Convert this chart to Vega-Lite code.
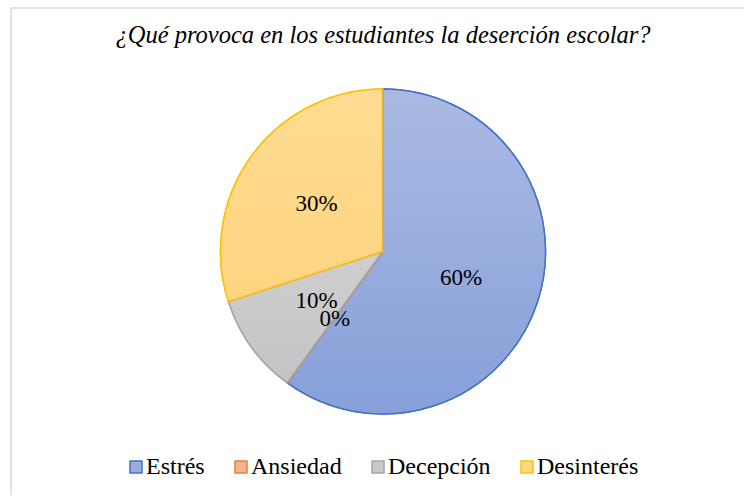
{
  "$schema": "https://vega.github.io/schema/vega-lite/v6.json",
  "width": 744,
  "height": 487,
  "padding": {"left": 11, "top": 8, "right": 0, "bottom": 0},
  "autosize": {"type": "none"},
  "background": "white",
  "view": {
    "stroke": "#D9D9D9",
    "strokeWidth": 1.5,
    "strokeDash": [1231, 744, 487, 0]
  },
  "title": {
    "text": "¿Qué provoca en los estudiantes la deserción escolar?",
    "font": "Liberation Serif",
    "fontStyle": "italic",
    "fontWeight": "normal",
    "fontSize": 24.5,
    "color": "#000000",
    "anchor": "middle",
    "baseline": "alphabetic",
    "offset": -59
  },
  "data": {
    "values": [
      {"cat": "Estrés", "value": 60, "label": "60%", "o": 1},
      {"cat": "Ansiedad", "value": 0, "label": "0%", "o": 2},
      {"cat": "Decepción", "value": 10, "label": "10%", "o": 3},
      {"cat": "Desinterés", "value": 30, "label": "30%", "o": 4}
    ]
  },
  "encoding": {
    "theta": {"field": "value", "type": "quantitative", "stack": true},
    "order": {"field": "o", "type": "quantitative"},
    "detail": {"field": "cat", "type": "nominal"}
  },
  "layer": [
    {
      "mark": {"type": "arc", "outerRadius": 162.5, "strokeWidth": 1.5},
      "encoding": {
        "fill": {
          "field": "cat", "type": "nominal",
          "scale": {"domain": ["Estrés", "Ansiedad", "Decepción", "Desinterés"], "range": ["#9BAEDD", "#F4B296", "#C9C9C9", "#FFD886"]},
          "legend": {"orient": "none", "legendX": 113, "legendY": 447, "direction": "horizontal", "title": null,
            "symbolType": "square", "symbolSize": 144, "symbolStrokeWidth": 1.5, "labelFont": "Liberation Serif",
            "labelFontSize": 24, "labelColor": "#000000", "labelOffset": -2, "columnPadding": 24, "labelLimit": 300}
        },
        "stroke": {
          "field": "cat", "type": "nominal",
          "scale": {"domain": ["Estrés", "Ansiedad", "Decepción", "Desinterés"], "range": ["#4472C4", "#ED7D31", "#A5A5A5", "#FFC000"]},
          "legend": {"orient": "none", "legendX": 113, "legendY": 447, "direction": "horizontal", "title": null,
            "symbolType": "square", "symbolSize": 144, "symbolStrokeWidth": 1.5, "labelFont": "Liberation Serif",
            "labelFontSize": 24, "labelColor": "#000000", "labelOffset": -2, "columnPadding": 24, "labelLimit": 300}
        }
      }
    },
    {
      "mark": {"type": "arc", "outerRadius": 162.5, "strokeWidth": 0},
      "encoding": {
        "fill": {
          "condition": [
            {"test": "datum.cat === 'Estrés'", "value": {"gradient": "linear", "x1": 0, "y1": 0, "x2": 0, "y2": 1, "stops": [{"offset": 0, "color": "#AABAE2"}, {"offset": 1, "color": "#87A0DA"}]}},
            {"test": "datum.cat === 'Decepción'", "value": {"gradient": "linear", "x1": 0, "y1": 0, "x2": 0, "y2": 1, "stops": [{"offset": 0, "color": "#CFCFCF"}, {"offset": 1, "color": "#C4C4C4"}]}},
            {"test": "datum.cat === 'Desinterés'", "value": {"gradient": "linear", "x1": 0, "y1": 0, "x2": 0, "y2": 1, "stops": [{"offset": 0, "color": "#FFDB93"}, {"offset": 1, "color": "#FFD57F"}]}}
          ],
          "value": "#F4B296"
        }
      }
    },
    {
      "mark": {"type": "arc", "outerRadius": 162.5, "strokeWidth": 1.5, "filled": false},
      "encoding": {
        "stroke": {"field": "cat", "type": "nominal"}
      }
    },
    {
      "mark": {"type": "text", "radius": 82, "font": "Liberation Serif", "fontSize": 23, "color": "#000000", "align": "center", "baseline": "middle", "dy": 1},
      "encoding": {
        "text": {"field": "label", "type": "nominal"}
      }
    }
  ]
}
